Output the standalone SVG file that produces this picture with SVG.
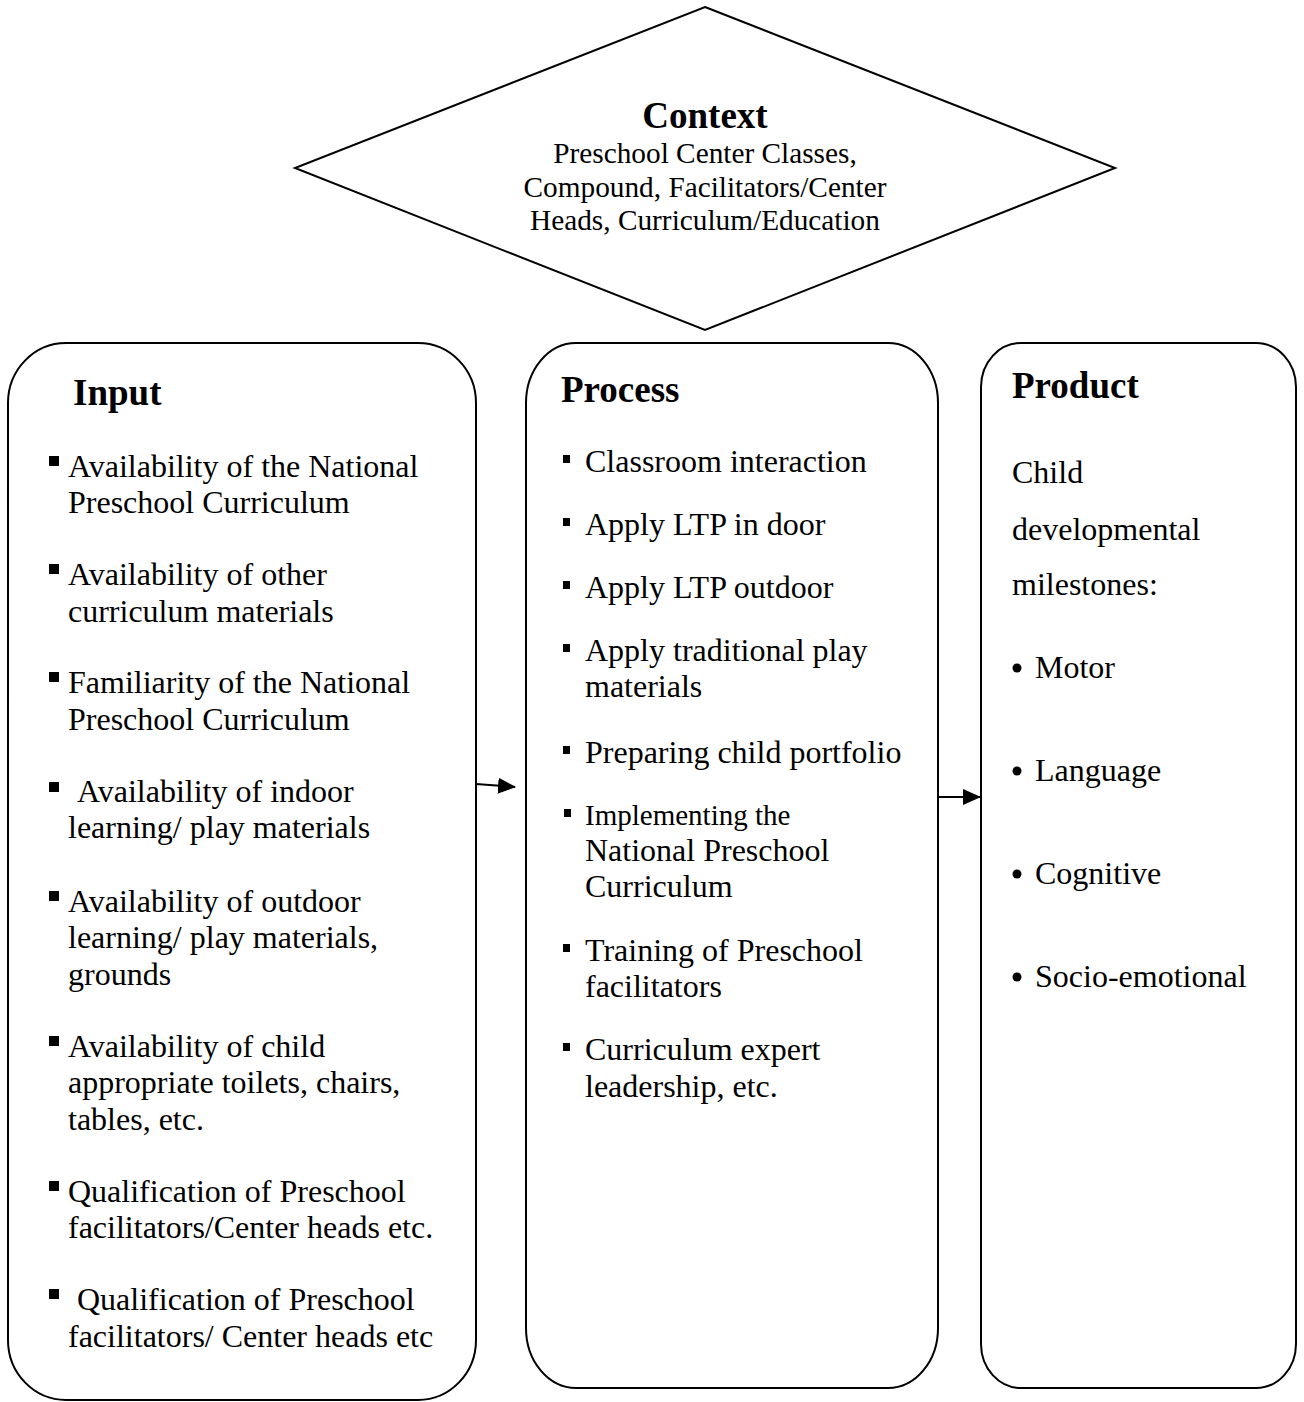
<svg xmlns="http://www.w3.org/2000/svg" width="1304" height="1402" viewBox="0 0 1304 1402">
<defs>
<style>
.shape{fill:#fff;stroke:#000;stroke-width:2}
.t{font-family:"Liberation Serif","Times New Roman",serif;font-size:32px;fill:#000}
.h{font-family:"Liberation Serif","Times New Roman",serif;font-size:37px;font-weight:bold;fill:#000}
.c{font-family:"Liberation Serif","Times New Roman",serif;font-size:29.3px;fill:#000;text-anchor:middle}
.sq{fill:#000}
.conn{stroke:#000;stroke-width:2;fill:none}
</style>
<marker id="arr" markerUnits="userSpaceOnUse" markerWidth="18" markerHeight="16" refX="17" refY="8" orient="auto">
<path d="M0,0 L18,8 L0,16 Z" fill="#000"/>
</marker>
</defs>
<rect width="1304" height="1402" fill="#fff"/>

<g id="context">
<polygon class="shape" points="705,7 1115,168 705,330 295,168"/>
<text class="h" x="705" y="128" text-anchor="middle">Context</text>
<text class="c" x="705" y="163">Preschool Center Classes,</text>
<text class="c" x="705" y="197">Compound, Facilitators/Center</text>
<text class="c" x="705" y="230">Heads, Curriculum/Education</text>
</g>

<g id="input">
<rect class="shape" x="8" y="343" width="468" height="1057" rx="58" ry="60"/>
<text class="h" x="73" y="405">Input</text>
<rect class="sq" x="49" y="456" width="10" height="10"/>
<text class="t" x="68" y="477">Availability of the National</text>
<text class="t" x="68" y="513">Preschool Curriculum</text>
<rect class="sq" x="49" y="564" width="10" height="10"/>
<text class="t" x="68" y="585">Availability of other</text>
<text class="t" x="68" y="622">curriculum materials</text>
<rect class="sq" x="49" y="672" width="10" height="10"/>
<text class="t" x="68" y="693">Familiarity of the National</text>
<text class="t" x="68" y="730">Preschool Curriculum</text>
<rect class="sq" x="49" y="782" width="10" height="10"/>
<text class="t" x="77" y="802">Availability of indoor</text>
<text class="t" x="68" y="838">learning/ play materials</text>
<rect class="sq" x="49" y="891" width="10" height="10"/>
<text class="t" x="68" y="912">Availability of outdoor</text>
<text class="t" x="68" y="948">learning/ play materials,</text>
<text class="t" x="68" y="985">grounds</text>
<rect class="sq" x="49" y="1036" width="10" height="10"/>
<text class="t" x="68" y="1057">Availability of child</text>
<text class="t" x="68" y="1093">appropriate toilets, chairs,</text>
<text class="t" x="68" y="1130">tables, etc.</text>
<rect class="sq" x="49" y="1181" width="10" height="10"/>
<text class="t" x="68" y="1202">Qualification of Preschool</text>
<text class="t" x="68" y="1238">facilitators/Center heads etc.</text>
<rect class="sq" x="49" y="1289" width="10" height="10"/>
<text class="t" x="77" y="1310">Qualification of Preschool</text>
<text class="t" x="68" y="1347">facilitators/ Center heads etc</text>
</g>

<g id="process">
<rect class="shape" x="526" y="343" width="412" height="1045" rx="50" ry="60"/>
<text class="h" x="561" y="402">Process</text>
<rect class="sq" x="563" y="455" width="7" height="8"/>
<text class="t" x="585" y="472">Classroom interaction</text>
<rect class="sq" x="563" y="518" width="7" height="8"/>
<text class="t" x="585" y="535">Apply LTP in door</text>
<rect class="sq" x="563" y="581" width="7" height="8"/>
<text class="t" x="585" y="598">Apply LTP outdoor</text>
<rect class="sq" x="563" y="644" width="7" height="8"/>
<text class="t" x="585" y="661">Apply traditional play</text>
<text class="t" x="585" y="697">materials</text>
<rect class="sq" x="563" y="746" width="7" height="8"/>
<text class="t" x="585" y="763">Preparing child portfolio</text>
<rect class="sq" x="564" y="809" width="7" height="8"/>
<text class="t" x="585" y="825" style="font-size:29px">Implementing the</text>
<text class="t" x="585" y="861">National Preschool</text>
<text class="t" x="585" y="897">Curriculum</text>
<rect class="sq" x="563" y="944" width="7" height="8"/>
<text class="t" x="585" y="961">Training of Preschool</text>
<text class="t" x="585" y="997">facilitators</text>
<rect class="sq" x="563" y="1043" width="7" height="8"/>
<text class="t" x="585" y="1060">Curriculum expert</text>
<text class="t" x="585" y="1097">leadership, etc.</text>
</g>

<g id="product">
<rect class="shape" x="981" y="343" width="315" height="1045" rx="40" ry="44"/>
<text class="h" x="1012" y="398">Product</text>
<text class="t" x="1012" y="483">Child</text>
<text class="t" x="1012" y="540">developmental</text>
<text class="t" x="1012" y="595">milestones:</text>
<circle class="sq" cx="1017" cy="668" r="4.5"/>
<text class="t" x="1035" y="678">Motor</text>
<circle class="sq" cx="1017" cy="771" r="4.5"/>
<text class="t" x="1035" y="781">Language</text>
<circle class="sq" cx="1017" cy="874" r="4.5"/>
<text class="t" x="1035" y="884">Cognitive</text>
<circle class="sq" cx="1017" cy="977" r="4.5"/>
<text class="t" x="1035" y="987">Socio-emotional</text>
</g>

<g id="connectors">
<line class="conn" x1="476" y1="784" x2="515" y2="787" marker-end="url(#arr)"/>
<line class="conn" x1="939" y1="797" x2="980" y2="797" marker-end="url(#arr)"/>
</g>
</svg>
